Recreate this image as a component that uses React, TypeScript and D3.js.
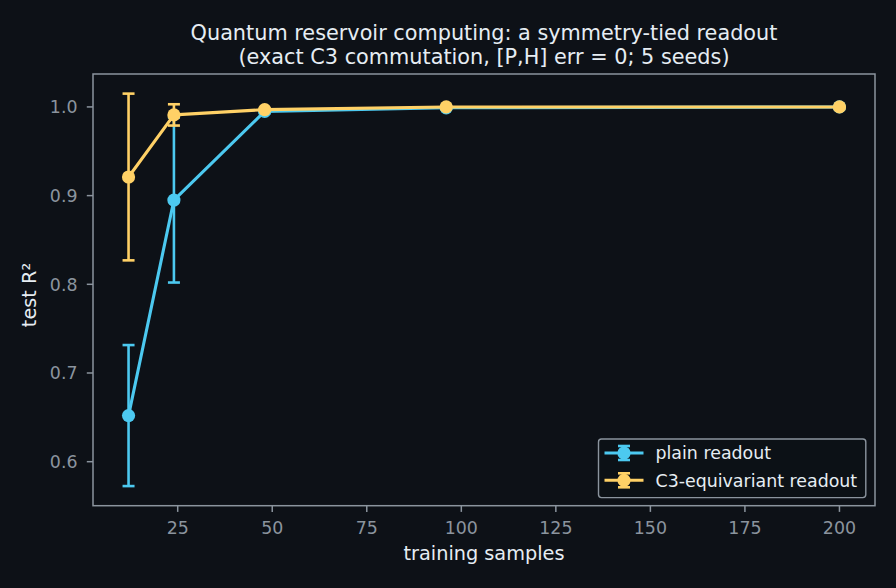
import React from "react";
import * as d3 from "d3";

// training set sizes and mean test R^2 over 5 seeds
const samples = [12, 24, 48, 96, 200];
const plainMean = [0.652, 0.895, 0.995, 0.999, 1.0];
const plainErr = [0.0795, 0.093, 0.002, 0.0005, 0.0002];
const equivMean = [0.921, 0.991, 0.997, 1.0, 1.0];
const equivErr = [0.094, 0.012, 0.001, 0.0003, 0.0001];

const xTicks = [25, 50, 75, 100, 125, 150, 175, 200];
const yTicks = [0.6, 0.7, 0.8, 0.9, 1.0];

const series = [
  { name: "plain readout", color: "#4cc9f0", mean: plainMean, err: plainErr },
  { name: "C3-equivariant readout", color: "#ffd166", mean: equivMean, err: equivErr },
];

const W = 896;
const H = 588;
const bg = "#0d1117";
const axisColor = "#8b949e";
const textColor = "#e6edf3";
const font = "DejaVu Sans, sans-serif";

export default function App() {
  const margin = { top: 74, right: 21, bottom: 82.3, left: 93 };
  const plotW = W - margin.left - margin.right;
  const plotH = H - margin.top - margin.bottom;

  // matplotlib-style 5% padding around the data extent
  const xExt = d3.extent(samples) as [number, number];
  const xPad = (xExt[1] - xExt[0]) * 0.05;
  const xScale = d3.scaleLinear().domain([xExt[0] - xPad, xExt[1] + xPad]).range([0, plotW]);

  const lows = series.flatMap(s => s.mean.map((m, i) => m - s.err[i]));
  const highs = series.flatMap(s => s.mean.map((m, i) => m + s.err[i]));
  const yLo = d3.min(lows) as number;
  const yHi = d3.max(highs) as number;
  const yPad = (yHi - yLo) * 0.05;
  const yScale = d3.scaleLinear().domain([yLo - yPad, yHi + yPad]).range([plotH, 0]);

  const line = d3.line<number>();
  const cap = 6;
  const cx0 = margin.left + plotW / 2;

  return (
    <svg width={W} height={H} style={{ display: "block", position: "absolute", left: 0, top: 0, background: bg }}>
      <rect width={W} height={H} fill={bg} />
      <text x={cx0} y={39.5} textAnchor="middle" fill={textColor} fontFamily={font} fontSize={20.8}>
        Quantum reservoir computing: a symmetry-tied readout
      </text>
      <text x={cx0} y={63.5} textAnchor="middle" fill={textColor} fontFamily={font} fontSize={20.8}>
        (exact C3 commutation, [P,H] err = 0; 5 seeds)
      </text>

      <g transform={`translate(${margin.left},${margin.top})`}>
        {series.map(s => {
          const pts = samples.map((x, i) => [xScale(x), yScale(s.mean[i])] as [number, number]);
          return (
            <g key={s.name}>
              {samples.map((x, i) => {
                const cx = xScale(x);
                const y1 = yScale(s.mean[i] - s.err[i]);
                const y2 = yScale(s.mean[i] + s.err[i]);
                return (
                  <g key={x} stroke={s.color} strokeWidth={2.6}>
                    <line x1={cx} x2={cx} y1={y1} y2={y2} />
                    <line x1={cx - cap} x2={cx + cap} y1={y1} y2={y1} />
                    <line x1={cx - cap} x2={cx + cap} y1={y2} y2={y2} />
                  </g>
                );
              })}
              <path d={line(pts) ?? ""} fill="none" stroke={s.color} strokeWidth={3.1} strokeLinejoin="round" />
              {pts.map((p, i) => (
                <circle key={i} cx={p[0]} cy={p[1]} r={6.6} fill={s.color} />
              ))}
            </g>
          );
        })}

        <rect x={0} y={0} width={plotW} height={plotH} fill="none" stroke={axisColor} strokeWidth={1.5} />

        {xTicks.map(t => (
          <g key={t} transform={`translate(${xScale(t)},${plotH})`}>
            <line y2={6.2} stroke={axisColor} strokeWidth={1.5} />
            <text y={28.6} textAnchor="middle" fill={axisColor} fontFamily={font} fontSize={17.4}>{t}</text>
          </g>
        ))}
        {yTicks.map(t => (
          <g key={t} transform={`translate(0,${yScale(t)})`}>
            <line x2={-6.2} stroke={axisColor} strokeWidth={1.5} />
            <text x={-15.5} dy="0.36em" textAnchor="end" fill={axisColor} fontFamily={font} fontSize={17.4}>{t.toFixed(1)}</text>
          </g>
        ))}

        <text x={plotW / 2} y={560 - margin.top} textAnchor="middle" fill={textColor} fontFamily={font} fontSize={19.3}>
          training samples
        </text>
        <text transform={`translate(${36 - margin.left},${295 - margin.top}) rotate(-90)`} textAnchor="middle" fill={textColor} fontFamily={font} fontSize={19.3}>
          test R²
        </text>

        <g transform={`translate(${598.5 - margin.left},${439 - margin.top})`}>
          <rect x={0} y={0} width={267.3} height={58.6} rx={3} fill={bg} fillOpacity={0.8} stroke={axisColor} strokeWidth={1.4} />
          {series.map((s, i) => {
            const y = 14 + i * 27.3;
            return (
              <g key={s.name}>
                <g stroke={s.color}>
                  <line x1={6} x2={45} y1={y} y2={y} strokeWidth={3.1} />
                  <line x1={25.5} x2={25.5} y1={y - 7} y2={y + 7} strokeWidth={2.6} />
                  <line x1={25.5 - cap} x2={25.5 + cap} y1={y - 7} y2={y - 7} strokeWidth={2.6} />
                  <line x1={25.5 - cap} x2={25.5 + cap} y1={y + 7} y2={y + 7} strokeWidth={2.6} />
                </g>
                <circle cx={25.5} cy={y} r={6.6} fill={s.color} />
                <text x={57} y={y} dy="0.36em" fill={textColor} fontFamily={font} fontSize={17.4}>{s.name}</text>
              </g>
            );
          })}
        </g>
      </g>
    </svg>
  );
}
